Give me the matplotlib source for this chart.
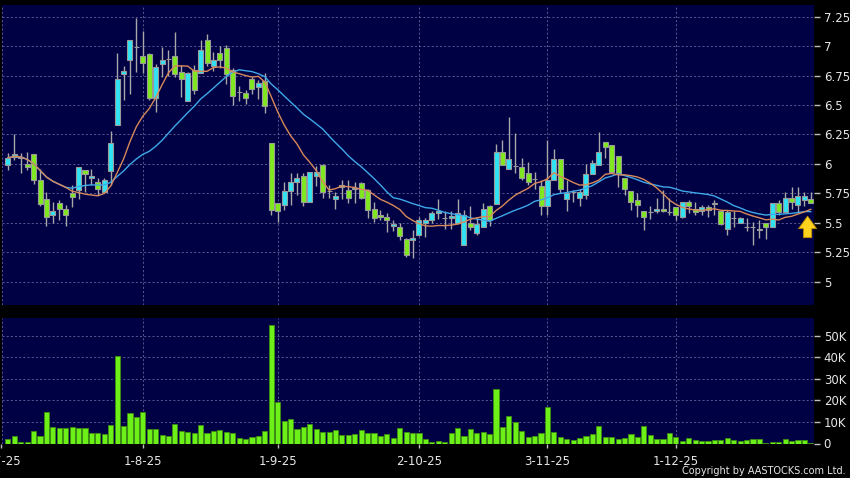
import numpy as np
import pandas as pd
import matplotlib
matplotlib.use("Agg")
import matplotlib.pyplot as plt
from matplotlib.ticker import FuncFormatter

plt.rcParams['font.family'] = ['DejaVu Sans']

# ---------------- data ----------------
open_ = [5.99, 6.06, 6.06, 6.00, 6.08, 5.86, 5.70, 5.57, 5.67, 5.62,
         5.75, 5.78, 5.95, 5.88, 5.85, 5.76, 5.94, 6.33, 6.76, 6.88,
         6.99, 6.92, 6.93, 6.56, 6.85, 6.89, 6.92, 6.78, 6.53, 6.80,
         6.77, 7.05, 6.83, 6.94, 6.98, 6.80, 6.61, 6.60, 6.72, 6.65,
         6.70, 6.18, 5.67, 5.65, 5.77, 5.85, 5.90, 5.68, 5.90, 5.99,
         5.77, 5.70, 5.80, 5.78, 5.79, 5.84, 5.78, 5.62, 5.57, 5.55,
         5.47, 5.46, 5.36, 5.35, 5.40, 5.50, 5.52, 5.58, 5.54, 5.54,
         5.50, 5.31, 5.50, 5.41, 5.46, 5.64, 5.66, 6.10, 5.96, 5.98,
         5.97, 5.92, 5.87, 5.81, 5.64, 5.86, 6.04, 5.70, 5.76, 5.71,
         5.74, 5.91, 5.99, 6.19, 6.16, 6.07, 5.88, 5.77, 5.69, 5.60,
         5.59, 5.60, 5.62, 5.59, 5.63, 5.55, 5.68, 5.62, 5.60, 5.63,
         5.67, 5.60, 5.45, 5.54, 5.50, 5.46, 5.46, 5.45, 5.50, 5.46,
         5.67, 5.59, 5.71, 5.65, 5.69, 5.70]
high = [6.09, 6.25, 6.09, 6.10, 6.08, 5.96, 5.76, 5.68, 5.69, 5.65,
        5.82, 5.97, 5.95, 5.96, 5.88, 5.88, 6.28, 6.94, 6.83, 7.05,
        7.24, 7.13, 6.94, 6.85, 6.99, 6.97, 7.12, 6.84, 6.78, 6.84,
        7.05, 7.10, 6.95, 7.00, 7.01, 6.81, 6.66, 6.63, 6.74, 6.71,
        6.77, 6.18, 5.67, 5.85, 5.92, 5.92, 5.92, 5.93, 5.98, 6.00,
        5.82, 5.76, 5.86, 5.86, 5.85, 5.85, 5.79, 5.68, 5.61, 5.58,
        5.52, 5.50, 5.37, 5.44, 5.55, 5.54, 5.60, 5.70, 5.60, 5.60,
        5.70, 5.61, 5.64, 5.55, 5.67, 5.65, 6.17, 6.20, 6.40, 6.26,
        6.05, 6.02, 5.93, 5.86, 6.20, 6.13, 6.04, 5.86, 5.78, 5.79,
        6.00, 6.03, 6.27, 6.19, 6.16, 6.07, 5.88, 5.77, 5.75, 5.60,
        5.64, 5.71, 5.78, 5.71, 5.63, 5.68, 5.69, 5.68, 5.65, 5.65,
        5.69, 5.60, 5.61, 5.60, 5.55, 5.54, 5.51, 5.52, 5.50, 5.67,
        5.69, 5.76, 5.80, 5.80, 5.76, 5.76]
low = [5.95, 6.03, 5.92, 5.95, 5.83, 5.64, 5.47, 5.50, 5.52, 5.47,
       5.63, 5.70, 5.76, 5.82, 5.74, 5.75, 5.82, 6.33, 6.54, 6.59,
       6.78, 6.77, 6.54, 6.44, 6.74, 6.75, 6.74, 6.57, 6.53, 6.59,
       6.77, 6.83, 6.79, 6.81, 6.68, 6.50, 6.53, 6.51, 6.59, 6.55,
       6.43, 5.57, 5.51, 5.61, 5.65, 5.74, 5.64, 5.68, 5.81, 5.71,
       5.71, 5.62, 5.70, 5.67, 5.67, 5.70, 5.54, 5.51, 5.52, 5.42,
       5.43, 5.35, 5.21, 5.20, 5.39, 5.38, 5.50, 5.53, 5.45, 5.45,
       5.49, 5.31, 5.44, 5.40, 5.46, 5.47, 5.66, 5.99, 5.96, 5.92,
       5.86, 5.82, 5.79, 5.57, 5.57, 5.86, 5.75, 5.60, 5.68, 5.64,
       5.70, 5.91, 5.99, 6.05, 5.92, 5.80, 5.74, 5.61, 5.55, 5.44,
       5.53, 5.58, 5.59, 5.57, 5.52, 5.54, 5.58, 5.57, 5.57, 5.55,
       5.57, 5.48, 5.40, 5.46, 5.50, 5.43, 5.31, 5.37, 5.36, 5.46,
       5.57, 5.59, 5.62, 5.58, 5.64, 5.67]
close = [6.05, 6.08, 6.05, 5.97, 5.86, 5.66, 5.55, 5.60, 5.62, 5.57,
         5.72, 5.97, 5.91, 5.90, 5.79, 5.86, 6.18, 6.72, 6.79, 7.05,
         6.99, 6.86, 6.56, 6.82, 6.88, 6.89, 6.76, 6.72, 6.77, 6.63,
         6.97, 6.86, 6.88, 6.88, 6.76, 6.58, 6.61, 6.56, 6.64, 6.69,
         6.49, 5.61, 5.60, 5.77, 5.85, 5.88, 5.68, 5.93, 5.93, 5.76,
         5.77, 5.73, 5.82, 5.71, 5.79, 5.71, 5.61, 5.54, 5.55, 5.52,
         5.49, 5.39, 5.23, 5.37, 5.52, 5.52, 5.58, 5.60, 5.54, 5.56,
         5.58, 5.57, 5.46, 5.49, 5.62, 5.52, 6.10, 5.99, 6.04, 5.98,
         5.88, 5.85, 5.87, 5.64, 5.86, 6.04, 5.79, 5.75, 5.76, 5.76,
         5.91, 6.01, 6.10, 6.14, 5.93, 5.92, 5.79, 5.68, 5.65, 5.55,
         5.59, 5.62, 5.60, 5.59, 5.57, 5.68, 5.64, 5.59, 5.63, 5.61,
         5.66, 5.49, 5.59, 5.54, 5.54, 5.46, 5.46, 5.44, 5.46, 5.67,
         5.59, 5.71, 5.68, 5.73, 5.73, 5.67]
volume_k = [2.0, 3.7, 0.9, 0.8, 5.9, 3.7, 14.4, 7.5, 7.0, 7.0,
            7.8, 7.0, 7.0, 4.8, 4.8, 4.2, 8.5, 40.5, 7.9, 14.3,
            12.4, 14.4, 6.7, 6.7, 3.9, 3.3, 9.2, 5.7, 5.3, 4.7,
            8.7, 4.7, 5.9, 6.2, 5.3, 5.1, 2.6, 2.0, 3.1, 3.6,
            5.9, 55.1, 19.3, 10.4, 11.2, 6.7, 7.5, 9.0, 6.7, 5.4,
            5.4, 6.2, 3.9, 3.9, 4.2, 6.2, 5.1, 5.1, 3.4, 4.2,
            2.5, 7.0, 5.3, 5.1, 4.7, 1.9, 0.6, 1.1, 0.6, 4.8,
            7.0, 3.6, 6.7, 4.8, 5.3, 4.3, 25.2, 7.5, 12.6, 10.2,
            5.9, 3.0, 3.7, 5.1, 16.9, 5.4, 3.1, 2.2, 1.6, 2.6,
            3.4, 4.3, 8.1, 2.8, 2.8, 2.3, 2.6, 4.3, 3.0, 8.1,
            4.0, 2.2, 2.2, 4.7, 3.1, 1.1, 2.6, 1.6, 1.1, 1.1,
            1.4, 1.6, 2.5, 1.7, 1.1, 1.7, 2.2, 2.3, 0.3, 0.9,
            0.6, 2.0, 1.1, 1.4, 1.4, 0.3]

tick_labels = ["1-7-25", "1-8-25", "1-9-25", "2-10-25", "3-11-25", "1-12-25"]
tick_index = [-1, 21, 42, 64, 84, 104]   # trading-day index of each label date
price_ticks = [5, 5.25, 5.5, 5.75, 6, 6.25, 6.5, 6.75, 7, 7.25]
vol_ticks_k = [0, 10, 20, 30, 40, 50]
ma_short, ma_long = 10, 20

# ---------------- styling ----------------
BG = "#000000"
PANEL = "#000044"
GRID = "#64649a"
UP = "#2fe3f3"
DOWN = "#7fe81e"
EDGE = "#9a9a9a"
WICK = "#a8a8a8"
VOL = "#6cf018"
VOL_EDGE = "#3e8f10"
TXT = "#e6e6e6"

o = np.array(open_); h = np.array(high); l = np.array(low); c = np.array(close)
n = len(c)
x = np.arange(n)

fig = plt.figure(figsize=(8.5, 4.78), dpi=100, facecolor=BG)
L = 1.5 / 850
W = (814 - 1.5) / 850
ax = fig.add_axes([L, 1 - 305 / 478, W, (305 - 5) / 478])
axv = fig.add_axes([L, 1 - 443.5 / 478, W, (443.5 - 318) / 478])

for a in (ax, axv):
    a.set_facecolor(PANEL)
    for s in a.spines.values():
        s.set_visible(False)
    a.set_xlim(-1, n - 0.5)
    a.set_xticks(tick_index)
    a.grid(True, color=GRID, ls=(0, (2.5, 2.5)), lw=0.6)
    a.set_axisbelow(True)
    a.yaxis.tick_right()
    a.tick_params(axis='y', colors="#bdbdbd", labelcolor=TXT, length=4, width=1,
                  pad=3, labelsize=8.5, direction='out')

# price panel
ax.set_ylim(4.802, 7.349)
ax.set_yticks(price_ticks)
ax.yaxis.set_major_formatter(FuncFormatter(lambda v, p: f"{v:g}"))
ax.tick_params(axis='x', length=0, labelbottom=False)

ax.vlines(x, l, h, color=WICK, lw=1.0, zorder=2)
body_bottom = np.minimum(o, c)
body_h = np.maximum(np.abs(c - o), 0.004)
colors = np.where(c > o, UP, np.where(c < o, DOWN, EDGE))
ax.bar(x, body_h, bottom=body_bottom, width=0.78, color=colors,
       edgecolor=EDGE, linewidth=0.8, zorder=3)

cs = pd.Series(c)
ma1 = cs.rolling(ma_short, min_periods=1).mean()
ma2 = cs.rolling(ma_long, min_periods=1).mean()
ax.plot(x, ma2, color="#3ea8e8", lw=1.0, zorder=4)
ax.plot(x, ma1, color="#d8895a", lw=1.0, zorder=4)

# latest-price marker arrow
ax.annotate('', xy=(n - 1.5, c[-1] - 0.09), xytext=(n - 1.5, c[-1] - 0.32),
            arrowprops=dict(arrowstyle='simple,head_width=1.3,head_length=0.9,tail_width=0.6',
                            fc="#ffd21f", ec="#c08a00", lw=0.6, mutation_scale=10),
            zorder=6)

# volume panel
axv.bar(x, volume_k, width=0.8, color=VOL, edgecolor=VOL_EDGE, linewidth=0.6, zorder=3)
axv.set_ylim(0, 58.25)
axv.set_yticks(vol_ticks_k)
axv.yaxis.set_major_formatter(FuncFormatter(lambda v, p: "0" if v == 0 else f"{v:g}K"))
axv.set_xticklabels(tick_labels)
axv.tick_params(axis='x', colors="#bdbdbd", labelcolor=TXT, length=3, width=1,
                pad=5, labelsize=8.5, direction='out')

fig.text(846 / 850, 1 - 471 / 478, "Copyright by AASTOCKS.com Ltd.", color=TXT,
         fontsize=7.0, ha='right', va='center')

fig.savefig("out.png", dpi=100, facecolor=BG)
